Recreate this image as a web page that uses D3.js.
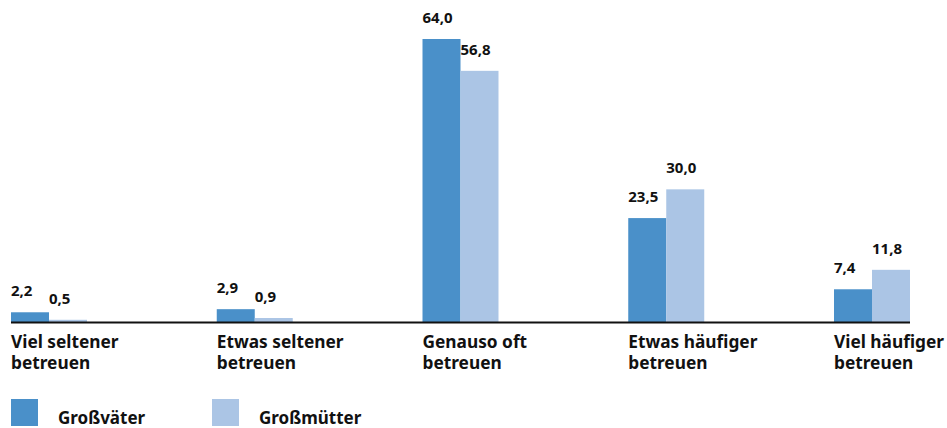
<!DOCTYPE html>
<html>
<head>
<meta charset="utf-8">
<script src="https://cdn.jsdelivr.net/npm/d3@7"></script>
<style>
  body { margin: 0; background: #fff; }
  svg { display: block; font-family: "Noto Sans", "DejaVu Sans", sans-serif; font-weight: bold; }
</style>
</head>
<body>
<div id="main"></div>
<script>
const categories = [
    ["Viel seltener", "betreuen"],
    ["Etwas seltener", "betreuen"],
    ["Genauso oft", "betreuen"],
    ["Etwas häufiger", "betreuen"],
    ["Viel häufiger", "betreuen"]
];
const seriesNames = ["Großväter", "Großmütter"];
const grossvaeter = [2.2, 2.9, 64.0, 23.5, 7.4];
const grossmuetter = [0.5, 0.9, 56.8, 30.0, 11.8];
const colors = ["#4a90c9", "#abc5e5"];

const width = 947;
const height = 428;
const baseY = 322;

const svg = d3.select('#main').append("svg")
    .attr("width", width)
    .attr("height", height);

const keys = categories.map(d => d.join(" "));
const x0 = d3.scaleBand()
    .domain(keys)
    .range([11, 910])
    .paddingInner(1 - 76 / 205.75)
    .paddingOuter(0);
const x1 = d3.scaleBand()
    .domain(seriesNames)
    .range([0, x0.bandwidth()]);
const y = d3.scaleLinear()
    .domain([0, 64])
    .range([baseY, 39]);

const rows = keys.map((k, i) => ({
    key: k,
    values: [grossvaeter[i], grossmuetter[i]].map((v, j) => ({ name: seriesNames[j], value: v, j: j }))
}));

const groups = svg.selectAll("g.group")
    .data(rows)
    .enter()
    .append("g")
    .attr("class", "group")
    .attr("transform", d => `translate(${x0(d.key)},0)`);

groups.selectAll("rect")
    .data(d => d.values)
    .enter()
    .append("rect")
    .attr("x", d => x1(d.name))
    .attr("y", d => y(d.value))
    .attr("width", x1.bandwidth())
    .attr("height", d => baseY - y(d.value))
    .attr("fill", d => colors[d.j]);

const fmt = v => v.toFixed(1).replace(".", ",");
groups.selectAll("text.val")
    .data(d => d.values)
    .enter()
    .append("text")
    .attr("class", "val")
    .attr("x", d => x1(d.name))
    .attr("y", d => y(d.value) - 16)
    .attr("font-size", 15)
    .attr("fill", "#111")
    .text(d => fmt(d.value));

// baseline
svg.append("line")
    .attr("x1", x0.range()[0])
    .attr("x2", x0.range()[1])
    .attr("y1", baseY + 0.5)
    .attr("y2", baseY + 0.5)
    .attr("stroke", "#111")
    .attr("stroke-width", 2);

// category labels
const catLabels = svg.selectAll("text.cat")
    .data(categories)
    .enter()
    .append("text")
    .attr("class", "cat")
    .attr("x", (d, i) => x0(keys[i]))
    .attr("y", 348)
    .attr("font-size", 17.3)
    .attr("fill", "#111");
catLabels.selectAll("tspan")
    .data(d => d)
    .enter()
    .append("tspan")
    .attr("x", function () { return d3.select(this.parentNode).attr("x"); })
    .attr("dy", (d, i) => i === 0 ? 0 : 21)
    .text(d => d);

// legend
const legend = svg.selectAll("g.legend")
    .data(seriesNames)
    .enter()
    .append("g")
    .attr("class", "legend")
    .attr("transform", (d, i) => `translate(${11 + i * 201},399)`);
legend.append("rect")
    .attr("width", 27)
    .attr("height", 27)
    .attr("fill", (d, i) => colors[i]);
legend.append("text")
    .attr("x", 47)
    .attr("y", 25)
    .attr("font-size", 17)
    .attr("fill", "#111")
    .text(d => d);
</script>
</body>
</html>
